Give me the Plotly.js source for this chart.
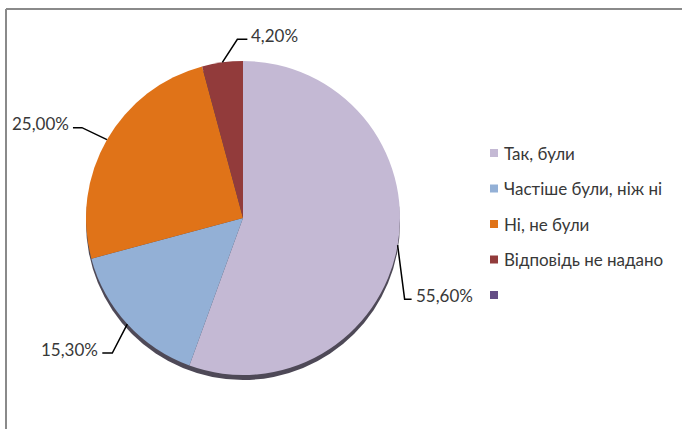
<!DOCTYPE html>
<html>
<head>
<meta charset="utf-8">
<script src="https://cdn.plot.ly/plotly-3.0.1.min.js"></script>
<style>
  html, body { margin: 0; padding: 0; background: #fff; }
  #chart { width: 682px; height: 429px; }
</style>
</head>
<body>
<div id="chart"></div>
<script>
// ---- data ----
var categories = ['Так, були', 'Частіше були, ніж ні', 'Ні, не були', 'Відповідь не надано', ''];
var values = [55.6, 15.3, 25.0, 4.2];
var valueLabels = ['55,60%', '15,30%', '25,00%', '4,20%'];
var colors = ['#C4B9D4', '#93B0D6', '#E07318', '#923B3B', '#644D85'];

// ---- styling / geometry ----
var W = 682, H = 429;
var cx = 243, cy = 218, R = 157;
var FONT = 'Lato, "Open Sans", sans-serif';
var TEXT = '#383838';
// leader line: elbow offset from slice edge, horizontal run, text side
var leader = [
  {dx: 7, dy: 54, run: 7, side: 'left'},
  {dx: -15, dy: 29, run: -10, side: 'right'},
  {dx: -25, dy: -12, run: -9, side: 'right'},
  {dx: 15, dy: -23, run: 10, side: 'left'}
];

function px(x) { return x / W; }
function py(y) { return 1 - y / H; }

var dom = {x: [px(cx - R), px(cx + R)], y: [py(cy + R), py(cy - R)]};
var sh = 5;
var shadowDom = {x: dom.x, y: [py(cy + R + sh), py(cy - R + sh)]};

var traces = [
  {
    type: 'pie', values: [1], labels: ['shadow'], sort: false,
    marker: {colors: ['#4e4957'], line: {width: 0}},
    textinfo: 'none', hoverinfo: 'skip', showlegend: false,
    domain: shadowDom
  },
  {
    type: 'pie',
    values: values,
    labels: categories.slice(0, values.length),
    sort: false, direction: 'clockwise', rotation: 0,
    marker: {colors: colors.slice(0, values.length), line: {width: 0}},
    textinfo: 'none', hoverinfo: 'label+percent', showlegend: false,
    domain: dom
  }
];

var shapes = [];
var annotations = [];

// frame (top and left edges visible)
shapes.push({type: 'line', xref: 'paper', yref: 'paper', x0: px(6), x1: px(6), y0: py(9), y1: py(440), line: {color: '#8a8a8a', width: 2}});
shapes.push({type: 'line', xref: 'paper', yref: 'paper', x0: px(6), x1: px(700), y0: py(9), y1: py(9), line: {color: '#8a8a8a', width: 2}});

// leader lines + data labels computed from slice angles
var total = values.reduce(function (a, b) { return a + b; }, 0);
var cum = 0;
values.forEach(function (v, i) {
  var mid = (cum + v / 2) / total * 2 * Math.PI;
  cum += v;
  var ex = cx + R * Math.sin(mid);
  var ey = cy - R * Math.cos(mid);
  var L = leader[i];
  var bx = ex + L.dx, by = ey + L.dy;
  var endx = bx + L.run;
  shapes.push({type: 'path', xref: 'paper', yref: 'paper',
    path: 'M' + px(ex) + ',' + py(ey) + 'L' + px(bx) + ',' + py(by) + 'L' + px(endx) + ',' + py(by),
    line: {color: '#000', width: 1.5}});
  annotations.push({
    xref: 'paper', yref: 'paper',
    x: px(endx + (L.side === 'left' ? 2 : -2)), y: py(by - 4),
    xanchor: L.side, yanchor: 'middle', showarrow: false,
    text: valueLabels[i], font: {family: FONT, size: 17, color: TEXT}
  });
});

// legend (manual, to match spacing)
var legX = 490, legY0 = 153, legStep = 35.5, sq = 8;
categories.forEach(function (c, i) {
  var yy = legY0 + i * legStep;
  shapes.push({type: 'rect', xref: 'paper', yref: 'paper',
    x0: px(legX), x1: px(legX + sq), y0: py(yy + sq / 2), y1: py(yy - sq / 2),
    fillcolor: colors[i], line: {width: 0}});
  if (c) {
    annotations.push({xref: 'paper', yref: 'paper', x: px(legX + 12), y: py(yy),
      xanchor: 'left', yanchor: 'middle', showarrow: false, text: c,
      font: {family: FONT, size: 17, color: TEXT}});
  }
});

var layout = {
  width: W, height: H,
  margin: {l: 0, r: 0, t: 0, b: 0},
  paper_bgcolor: '#fff', plot_bgcolor: '#fff',
  showlegend: false,
  shapes: shapes, annotations: annotations
};

Plotly.newPlot('chart', traces, layout, {displayModeBar: false, staticPlot: true});
</script>
</body>
</html>
